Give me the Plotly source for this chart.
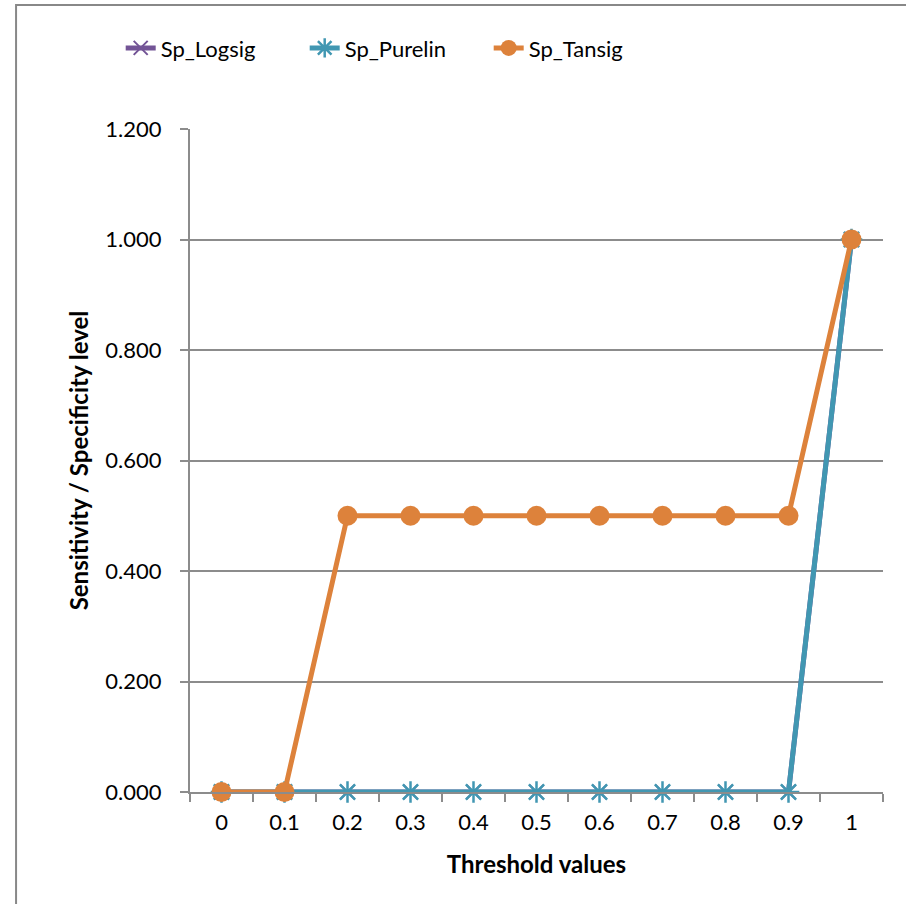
import plotly.graph_objects as go

# Threshold categories and the specificity of each transfer function
thresholds = ["0", "0.1", "0.2", "0.3", "0.4", "0.5", "0.6", "0.7", "0.8", "0.9", "1"]
sp_logsig = [0, 0, 0, 0, 0, 0, 0, 0, 0, 0, 1]
sp_purelin = [0, 0, 0, 0, 0, 0, 0, 0, 0, 0, 1]
sp_tansig = [0, 0, 0.5, 0.5, 0.5, 0.5, 0.5, 0.5, 0.5, 0.5, 1]

PURPLE = "#735496"
BLUE = "#4197B2"
ORANGE = "#DD823B"
GRID = "#8C8C8C"
FONT = "Lato"
FS = 22
TITLE_FS = 24

fig = go.Figure()

fig.add_trace(go.Scatter(
    x=thresholds, y=sp_logsig, name="Sp_Logsig", mode="lines+markers",
    line=dict(color=PURPLE, width=5), cliponaxis=False,
    marker=dict(symbol="x-thin-open", size=14, line=dict(color=PURPLE, width=2)),
))
fig.add_trace(go.Scatter(
    x=thresholds, y=sp_purelin, name="Sp_Purelin", mode="lines+markers",
    line=dict(color=BLUE, width=5), cliponaxis=False,
    marker=dict(symbol="asterisk-open", size=18, line=dict(color=BLUE, width=2.5)),
))
fig.add_trace(go.Scatter(
    x=thresholds, y=sp_tansig, name="Sp_Tansig", mode="lines+markers",
    line=dict(color=ORANGE, width=5), cliponaxis=False,
    marker=dict(symbol="circle", size=20, color=ORANGE),
))

fig.update_layout(
    width=906, height=904,
    margin=dict(l=190, r=23, t=129, b=112),
    paper_bgcolor="white", plot_bgcolor="white",
    font=dict(family=FONT, size=FS, color="black"),
    showlegend=True,
    legend=dict(
        orientation="h", x=-0.1, xanchor="left", y=1.122, yanchor="middle",
        font=dict(family=FONT, size=FS, color="black"),
        entrywidth=139, entrywidthmode="pixels",
        bgcolor="rgba(0,0,0,0)",
    ),
    xaxis=dict(
        type="category", tickson="boundaries", range=[-0.5, 10.5],
        showgrid=False, showline=True, linecolor=GRID, linewidth=2,
        ticks="outside", ticklen=8, tickwidth=2, tickcolor=GRID,
        ticklabelstandoff=10,
        tickfont=dict(family=FONT, size=FS),
        title=dict(text="<b>Threshold values</b>", font=dict(family=FONT, size=TITLE_FS), standoff=22),
        zeroline=False,
    ),
    yaxis=dict(
        range=[0, 1.2], dtick=0.2, tickformat=".3f",
        showgrid=True, gridcolor=GRID, gridwidth=2,
        showline=True, linecolor=GRID, linewidth=2,
        ticks="outside", ticklen=8, tickwidth=2, tickcolor=GRID,
        ticklabelstandoff=14,
        tickfont=dict(family=FONT, size=FS),
        title=dict(text="<b>Sensitivity / Specificity level</b>", font=dict(family=FONT, size=TITLE_FS), standoff=10),
        zeroline=False,
    ),
    shapes=[dict(
        type="rect", xref="paper", yref="paper",
        x0=-0.251, x1=1.3, y0=-0.4, y1=1.187,
        line=dict(color="#888888", width=2), fillcolor="rgba(0,0,0,0)", layer="below",
    )],
)

fig.write_html("out.html")
